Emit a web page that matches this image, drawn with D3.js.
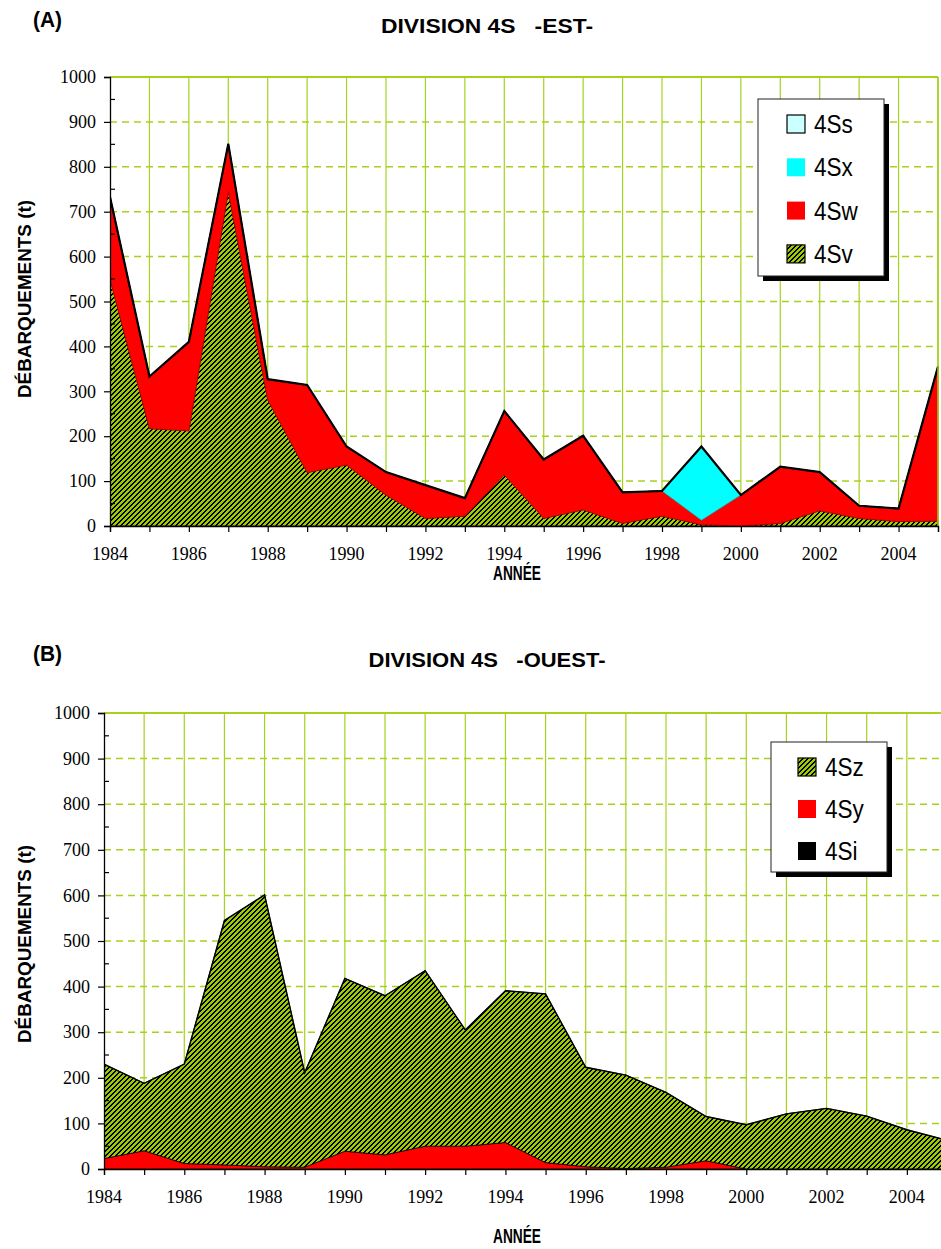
<!DOCTYPE html>
<html>
<head>
<meta charset="utf-8">
<script src="https://cdn.jsdelivr.net/npm/d3@7"></script>
<style>
  html, body { margin: 0; padding: 0; background: #fff; }
  svg text { white-space: pre; }
</style>
</head>
<body>
<svg id="chart" width="941" height="1249"></svg>
<script>
// Landings by unit area, 1984-2005
const years = [1984, 1985, 1986, 1987, 1988, 1989, 1990, 1991, 1992, 1993, 1994,
               1995, 1996, 1997, 1998, 1999, 2000, 2001, 2002, 2003, 2004, 2005];
const xTickYears = [1984, 1986, 1988, 1990, 1992, 1994, 1996, 1998, 2000, 2002, 2004];
const yTicks = [0, 100, 200, 300, 400, 500, 600, 700, 800, 900, 1000];

// Division 4S, east
const est4Sv = [550, 217, 212, 745, 281, 119, 136, 69, 17, 22, 114, 17, 36, 6, 22, 3, 0, 6, 34, 17, 10, 11];
const est4Sw = [183, 116, 198, 106, 46, 195, 41, 51, 74, 40, 142, 131, 165, 69, 56, 10, 69, 126, 86, 28, 29, 344];
const est4Sx = [0, 0, 0, 0, 0, 0, 0, 0, 0, 0, 0, 0, 0, 0, 0, 164, 0, 0, 0, 0, 0, 0];
const est4Ss = [0, 0, 0, 0, 0, 0, 0, 0, 0, 0, 0, 0, 0, 0, 0, 0, 0, 0, 0, 0, 0, 0];

// Division 4S, west
const ouest4Si = [0, 0, 0, 0, 0, 0, 0, 0, 0, 0, 0, 0, 0, 0, 0, 0, 0, 0, 0, 0, 0, 0];
const ouest4Sy = [23, 40, 12, 9, 5, 4, 39, 31, 50, 50, 58, 14, 5, 1, 4, 18, 0, 0, 0, 0, 0, 0];
const ouest4Sz = [207, 148, 218, 536, 596, 207, 379, 349, 385, 255, 333, 370, 218, 205, 164, 97, 97, 121, 133, 116, 86, 63];

const GREEN = "#9ccc00";
const GRID = "#a6d21e";
const svg = d3.select("#chart");
const SANS = "Liberation Sans";
const SERIF = "Liberation Serif";

// fit a text element to a given width (narrow lettering)
function fitWidth(sel, width) {
  return sel.attr("textLength", width).attr("lengthAdjust", "spacingAndGlyphs");
}
// squeeze a text element horizontally to a fraction of its natural width
function condense(sel, factor) {
  sel.each(function () {
    const w = this.getComputedTextLength();
    d3.select(this).attr("textLength", w * factor).attr("lengthAdjust", "spacingAndGlyphs");
  });
  return sel;
}

// pixel diagonal hatch (black / green) used by the green series
const defs = svg.append("defs");
const P = 5;
const pat = defs.append("pattern")
  .attr("id", "hatch").attr("patternUnits", "userSpaceOnUse")
  .attr("width", P).attr("height", P);
pat.append("rect").attr("width", P).attr("height", P).attr("fill", GREEN);
for (let px = 0; px < P; px++) {
  for (let py = 0; py < P; py++) {
    if ((px + py) % P < 2) {
      pat.append("rect").attr("x", px).attr("y", py).attr("width", 1).attr("height", 1)
        .attr("fill", "#000").attr("shape-rendering", "crispEdges");
    }
  }
}

function drawPanel(cfg) {
  const { x0, x1, y0, y1 } = cfg;
  const g = svg.append("g");
  const clipId = cfg.id + "-clip";
  defs.append("clipPath").attr("id", clipId)
    .append("rect").attr("x", x0).attr("y", y1 - 1).attr("width", x1 - x0 + 2).attr("height", y0 - y1 + 2);

  const x = d3.scaleLinear().domain([1984, 2005]).range([x0, x1]);
  const y = d3.scaleLinear().domain([0, 1000]).range([y0, y1]);

  // grid: solid verticals each year, dashed horizontals each 100
  g.append("g").selectAll("line").data(years.slice(1)).join("line")
    .attr("x1", d => x(d)).attr("x2", d => x(d))
    .attr("y1", y(1000)).attr("y2", y(0))
    .attr("stroke", GRID).attr("stroke-width", 1.2);
  g.append("g").selectAll("line").data(yTicks.slice(1, -1)).join("line")
    .attr("x1", x0).attr("x2", x1)
    .attr("y1", d => y(d)).attr("y2", d => y(d))
    .attr("stroke", GRID).attr("stroke-width", 1.5)
    .attr("stroke-dasharray", "7,5");
  g.append("line").attr("x1", x0).attr("x2", x1).attr("y1", y(1000)).attr("y2", y(1000))
    .attr("stroke", GRID).attr("stroke-width", 2);

  // stacked areas
  const rows = years.map((yr, i) => {
    const r = { year: yr };
    cfg.series.forEach(s => { r[s.key] = s.values[i]; });
    return r;
  });
  const stacked = d3.stack().keys(cfg.series.map(s => s.key))(rows);
  const area = d3.area()
    .x(d => x(d.data.year)).y0(d => y(d[0])).y1(d => y(d[1]));
  const plot = g.append("g").attr("clip-path", `url(#${clipId})`);
  plot.selectAll("path.layer").data(stacked).join("path")
    .attr("class", "layer")
    .attr("d", area)
    .attr("fill", (d, i) => cfg.series[i].fill)
    .attr("stroke", (d, i) => cfg.series[i].edge)
    .attr("stroke-width", 0.8)
    .attr("stroke-linejoin", "round");

  // outline of the stacked total
  const top = stacked[stacked.length - 1];
  plot.append("path")
    .attr("d", d3.line().x(d => x(d.data.year)).y(d => y(d[1]))(top))
    .attr("fill", "none").attr("stroke", "#000")
    .attr("stroke-width", cfg.outline).attr("stroke-linejoin", "miter");

  if (cfg.rightBorder) {
    g.append("line").attr("x1", x1).attr("x2", x1).attr("y1", y(1000)).attr("y2", y(0))
      .attr("stroke", GRID).attr("stroke-width", 1.5);
  }

  // y axis with major ticks outside and minor ticks inside
  const yAxis = g.append("g").attr("transform", `translate(${x0},0)`)
    .call(d3.axisLeft(y).tickValues(yTicks).tickFormat(d3.format("d")).tickSize(6).tickPadding(8));
  yAxis.attr("font-family", SERIF).attr("font-size", 18);
  yAxis.select(".domain").attr("stroke", "#000").attr("stroke-width", 1.3);
  yAxis.selectAll(".tick line").attr("stroke", "#000").attr("stroke-width", 1.2);
  yAxis.selectAll("text").style("font-family", SERIF).style("font-size", "18px").attr("fill", "#000");
  g.append("g").selectAll("line").data(d3.range(50, 1000, 100)).join("line")
    .attr("x1", x0).attr("x2", x0 + 5).attr("y1", d => y(d)).attr("y2", d => y(d))
    .attr("stroke", "#000").attr("stroke-width", 1.2);

  // x axis: a tick every year, a label every two
  const xAxis = g.append("g").attr("transform", `translate(0,${y0})`)
    .call(d3.axisBottom(x).tickValues(years).tickSize(6).tickFormat(""));
  xAxis.select(".domain").attr("stroke", "#000").attr("stroke-width", 1.3);
  xAxis.selectAll(".tick line").attr("stroke", "#000").attr("stroke-width", 1.2);
  g.append("g").selectAll("text").data(xTickYears).join("text")
    .attr("x", d => x(d)).attr("y", y0 + 34)
    .attr("text-anchor", "middle")
    .style("font-family", SERIF).style("font-size", "18px")
    .text(d => d);

  // titles
  fitWidth(g.append("text").attr("x", 33).attr("y", cfg.titleY - 2)
    .style("font-family", SANS).attr("font-weight", "bold").attr("font-size", 22)
    .text(cfg.panel), 29);
  fitWidth(g.append("text").attr("x", 487).attr("y", cfg.titleY + 4).attr("text-anchor", "middle")
    .style("font-family", SANS).attr("font-weight", "bold").attr("font-size", 21)
    .text(cfg.title), cfg.titleW);
  fitWidth(g.append("text").attr("x", 517).attr("y", cfg.xTitleY).attr("text-anchor", "middle")
    .style("font-family", SANS).attr("font-weight", "bold").attr("font-size", 20)
    .text("ANNÉE"), 48);
  fitWidth(g.append("text")
    .attr("transform", `translate(31,${cfg.yTitleC}) rotate(-90)`)
    .attr("text-anchor", "middle")
    .style("font-family", SANS).attr("font-weight", "bold").attr("font-size", 18)
    .text("DÉBARQUEMENTS (t)"), 198);

  // legend with drop shadow
  const L = cfg.legend;
  const lg = g.append("g");
  lg.append("rect").attr("x", L.x + 5).attr("y", L.y + 5).attr("width", L.w).attr("height", L.h).attr("fill", "#000");
  lg.append("rect").attr("x", L.x).attr("y", L.y).attr("width", L.w).attr("height", L.h)
    .attr("fill", "#fff").attr("stroke", "#222").attr("stroke-width", 1);
  const items = cfg.series.slice().reverse();
  items.forEach((s, i) => {
    const cy = L.y + L.first + i * L.step;
    lg.append("rect").attr("x", L.sx).attr("y", cy - 9).attr("width", 18).attr("height", 18)
      .attr("fill", s.fill).attr("stroke", s.swatchEdge).attr("stroke-width", s.swatchEdge === "none" ? 0 : 1.2);
    condense(lg.append("text").attr("x", L.sx + 27).attr("y", cy + 9)
      .style("font-family", SANS).attr("font-size", 25)
      .text(s.key), 0.9);
  });
}

drawPanel({
  id: "est", panel: "(A)", title: "DIVISION 4S   -EST-", titleW: 212,
  x0: 110, x1: 938, y0: 526, y1: 77,
  titleY: 29, xTitleY: 580, yTitleC: 299, outline: 2.2, rightBorder: true,
  series: [
    { key: "4Sv", values: est4Sv, fill: "url(#hatch)", edge: "#3a0000", swatchEdge: "#000" },
    { key: "4Sw", values: est4Sw, fill: "#ff0000", edge: "#b00000", swatchEdge: "none" },
    { key: "4Sx", values: est4Sx, fill: "#00ffff", edge: "#30a0a0", swatchEdge: "none" },
    { key: "4Ss", values: est4Ss, fill: "#ccffff", edge: "#000", swatchEdge: "#000" }
  ],
  legend: { x: 758, y: 99, w: 126, h: 177, first: 25, step: 43.3, sx: 787 }
});

drawPanel({
  id: "ouest", panel: "(B)", title: "DIVISION 4S   -OUEST-", titleW: 237,
  x0: 104, x1: 947, y0: 1169, y1: 713,
  titleY: 663, xTitleY: 1243, yTitleC: 944, outline: 1.4, rightBorder: false,
  series: [
    { key: "4Si", values: ouest4Si, fill: "#000", edge: "#000", swatchEdge: "none" },
    { key: "4Sy", values: ouest4Sy, fill: "#ff0000", edge: "#400000", swatchEdge: "none" },
    { key: "4Sz", values: ouest4Sz, fill: "url(#hatch)", edge: "#000", swatchEdge: "#000" }
  ],
  legend: { x: 771, y: 742, w: 116, h: 130, first: 25, step: 42, sx: 798 }
});
</script>
</body>
</html>
